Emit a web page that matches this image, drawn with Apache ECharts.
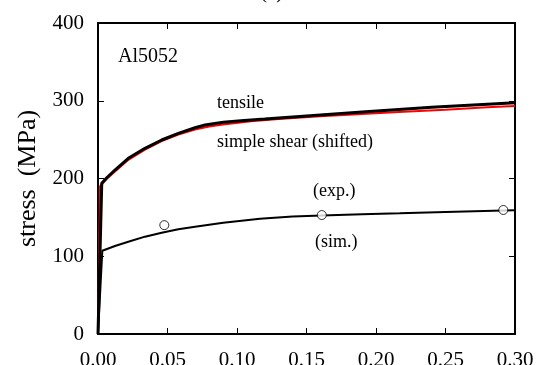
<!DOCTYPE html>
<html>
<head>
<meta charset="utf-8">
<script src="https://cdn.jsdelivr.net/npm/echarts@6/dist/echarts.min.js"></script>
<style>
html,body{margin:0;padding:0;background:#fff;}
#chart{width:539px;height:365px;}
</style>
</head>
<body>
<div id="chart"></div>
<script>
// Data
var xTicks = [0, 0.05, 0.10, 0.15, 0.20, 0.25, 0.30];
var yTicks = [0, 100, 200, 300, 400];

var tensileStrain = [0, 0.0027, 0.0063, 0.0122, 0.0218, 0.0338, 0.0458, 0.0578, 0.0698, 0.077, 0.0901, 0.105, 0.120, 0.150, 0.190, 0.240, 0.300];
var tensileStress = [0, 193.8, 201, 210.9, 226, 238.8, 249.5, 258.1, 265.3, 268.8, 272.3, 274.6, 276.5, 280.5, 285.5, 291.5, 297.5];

var shearStrain = [0, 0.0015, 0.006, 0.0122, 0.0218, 0.0338, 0.0458, 0.0578, 0.0698, 0.080, 0.090, 0.110, 0.130, 0.160, 0.190, 0.220, 0.250, 0.280, 0.300];
var shearStress = [0, 190, 199, 209, 224, 237, 248, 256.5, 263, 267, 269.5, 273.5, 276.5, 280, 283, 285.8, 288.5, 291.5, 293.2];

var simStrain = [0, 0.0031, 0.0122, 0.0218, 0.0338, 0.0458, 0.0578, 0.0698, 0.0901, 0.1165, 0.140, 0.161, 0.190, 0.217, 0.250, 0.2916, 0.300];
var simStress = [0, 107, 113.2, 118.7, 125.2, 130.3, 134.6, 138, 143.2, 148.3, 151, 152.5, 154, 155.3, 157, 158.8, 159.2];

var expStrain = [0.0477, 0.161, 0.2916];
var expStress = [140, 153, 159.5];

function zip(a, b) { return a.map(function (v, i) { return [v, b[i]]; }); }

var FONT = '"Liberation Serif", "Times New Roman", serif';
var chart = echarts.init(document.getElementById('chart'), null, {renderer: 'canvas'});

var axisBase = {
  axisLine: {show: true, onZero: false, lineStyle: {color: '#000', width: 2}},
  axisTick: {show: true, inside: true, length: 6, lineStyle: {color: '#000', width: 1}},
  splitLine: {show: false}
};

chart.setOption({
  animation: false,
  backgroundColor: '#fff',
  grid: {left: 98, right: 24, top: 23, bottom: 31, containLabel: false, outerBoundsMode: 'none'},
  xAxis: [
    Object.assign({}, axisBase, {
      type: 'value', min: xTicks[0], max: xTicks[xTicks.length - 1], interval: 0.05,
      position: 'bottom',
      axisLabel: {fontFamily: FONT, fontSize: 21, color: '#000', margin: 16,
        formatter: function (v) { return v.toFixed(2); }}
    }),
    Object.assign({}, axisBase, {
      type: 'value', min: xTicks[0], max: xTicks[xTicks.length - 1], interval: 0.05,
      position: 'top', axisLabel: {show: false}
    })
  ],
  yAxis: [
    Object.assign({}, axisBase, {
      type: 'value', min: yTicks[0], max: yTicks[yTicks.length - 1], interval: 100,
      position: 'left',
      name: 'stress  (MPa)', nameLocation: 'middle', nameGap: 57,
      nameTextStyle: {fontFamily: FONT, fontSize: 26, color: '#000'},
      axisLabel: {fontFamily: FONT, fontSize: 21, color: '#000', margin: 14}
    }),
    Object.assign({}, axisBase, {
      type: 'value', min: yTicks[0], max: yTicks[yTicks.length - 1], interval: 100,
      position: 'right', axisLabel: {show: false}
    })
  ],
  series: [
    {type: 'line', name: 'simple shear (shifted)', data: zip(shearStrain, shearStress),
      showSymbol: false, symbol: 'none', smooth: false, z: 2,
      lineStyle: {color: '#ff0000', width: 2}},
    {type: 'line', name: 'tensile', data: zip(tensileStrain, tensileStress),
      showSymbol: false, symbol: 'none', smooth: false, z: 3,
      lineStyle: {color: '#000', width: 3}},
    {type: 'line', name: 'sim', data: zip(simStrain, simStress),
      showSymbol: false, symbol: 'none', smooth: false, z: 3,
      lineStyle: {color: '#000', width: 2}},
    {type: 'scatter', name: 'exp', data: zip(expStrain, expStress),
      symbol: 'circle', symbolSize: 9, z: 4,
      itemStyle: {color: '#fff', borderColor: '#000', borderWidth: 1}}
  ],
  graphic: [
    {type: 'text', left: 260, top: -18, style: {text: '(a)', font: '21px ' + FONT, fill: '#000'}},
    {type: 'text', x: 118, y: 56.5, style: {text: 'Al5052', font: '20px ' + FONT, fill: '#000', verticalAlign: 'middle'}},
    {type: 'text', x: 217, y: 103, style: {text: 'tensile', font: '18px ' + FONT, fill: '#000', verticalAlign: 'middle'}},
    {type: 'text', x: 217, y: 142.3, style: {text: 'simple shear (shifted)', font: '18px ' + FONT, fill: '#000', verticalAlign: 'middle'}},
    {type: 'text', x: 313, y: 191.3, style: {text: '(exp.)', font: '18px ' + FONT, fill: '#000', verticalAlign: 'middle'}},
    {type: 'text', x: 315, y: 242.6, style: {text: '(sim.)', font: '18px ' + FONT, fill: '#000', verticalAlign: 'middle'}}
  ]
});
</script>
</body>
</html>
